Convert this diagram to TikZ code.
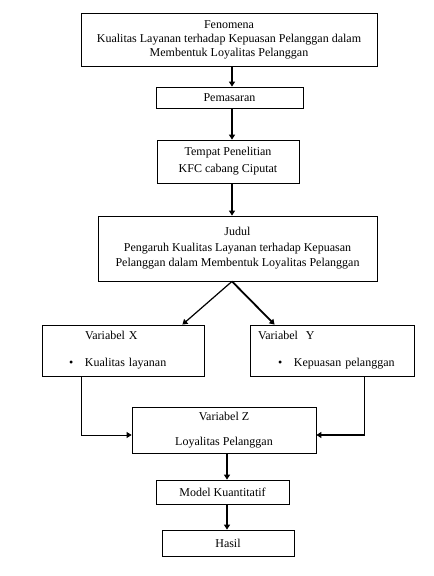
\documentclass[tikz,border=0pt]{standalone}
\usepackage{fontspec}
\setmainfont{Liberation Serif}
\usepackage{tikz}
\usetikzlibrary{arrows.meta}
\usetikzlibrary{positioning}
\tikzstyle{block} = [rectangle, draw, line width=0.8pt, align=center,
    inner sep=0pt, font=\fontsize{12}{14}\selectfont]
\tikzstyle{line} = [draw, -{Triangle[length=5pt,width=6pt]}]

\begin{document}
\begin{tikzpicture}[x=1pt,y=-1pt]
    \useasboundingbox (0,0) rectangle (434,576);
    \coordinate (axis) at (232,0);
    \coordinate (axisb) at (227,0);

    % Place nodes
    \node [block,minimum width=296pt,minimum height=53pt] (fenomena) at (229,39.5)
        {Fenomena\\Kualitas Layanan terhadap Kepuasan Pelanggan dalam\\Membentuk Loyalitas Pelanggan};
    \node [block,minimum width=147pt,minimum height=21pt,node distance=58pt,below of=fenomena,xshift=0.5pt] (pemasaran) {Pemasaran};
    \node [block,minimum width=142pt,minimum height=43pt,node distance=64pt,below of=pemasaran,xshift=-1.5pt] (tempat)
        {Tempat Penelitian\\[3pt]KFC cabang Ciputat};
    \node [block,minimum width=279pt,minimum height=65pt,node distance=87pt,below of=tempat,xshift=9.5pt] (judul)
        {Judul\\[1.5pt]Pengaruh Kualitas Layanan terhadap Kepuasan\\[1.5pt]Pelanggan dalam Membentuk Loyalitas Pelanggan};
    \node [block,align=left,text width=108pt,inner xsep=27pt,minimum height=51pt,node distance=102pt,below of=judul,xshift=-114.5pt] (varx)
        {\hspace*{16pt}Variabel X\\[13pt]\makebox[16pt][l]{\textbullet}Kualitas layanan};
    \node [block,align=left,text width=148pt,inner xsep=8pt,minimum height=51pt,node distance=102pt,below of=judul,xshift=94.5pt] (vary)
        {Variabel\ \ Y\\[13pt]\hspace*{20pt}\makebox[16pt][l]{\textbullet}Kepuasan pelanggan};
    \node [block,minimum width=184pt,minimum height=46pt,node distance=181.5pt,below of=judul,xshift=-13.5pt] (varz)
        {Variabel Z\\[11pt]Loyalitas Pelanggan};
    \node [block,minimum width=133pt,minimum height=24pt,node distance=62pt,below of=varz,xshift=-1.5pt] (model) {Model Kuantitatif};
    \node [block,minimum width=132pt,minimum height=26pt,node distance=51pt,below of=model,xshift=5.5pt] (hasil) {Hasil};

    % Draw edges
    \path [line,line width=2pt] (fenomena.south -| axis) -- (pemasaran.north -| axis);
    \path [line,line width=2pt] (pemasaran.south -| axis) -- (tempat.north -| axis);
    \path [line,line width=2pt] (tempat.south -| axis) -- (judul.north -| axis);
    \path [line,line width=1.2pt] (judul.south -| axis) -- ([xshift=-22pt]varx.north east);
    \path [line,line width=1.8pt] (judul.south -| axis) -- ([xshift=25pt]vary.north west);
    \path [line,line width=0.8pt] ([xshift=40pt]varx.south west) |- ([yshift=-5pt]varz.west);
    \path [line,line width=1.8pt] ([xshift=-50pt]vary.south east) |- ([yshift=-5pt]varz.east);
    \path [line,line width=2pt] (varz.south -| axisb) -- (model.north -| axisb);
    \path [line,line width=2pt] (model.south -| axisb) -- (hasil.north -| axisb);
\end{tikzpicture}
\end{document}
